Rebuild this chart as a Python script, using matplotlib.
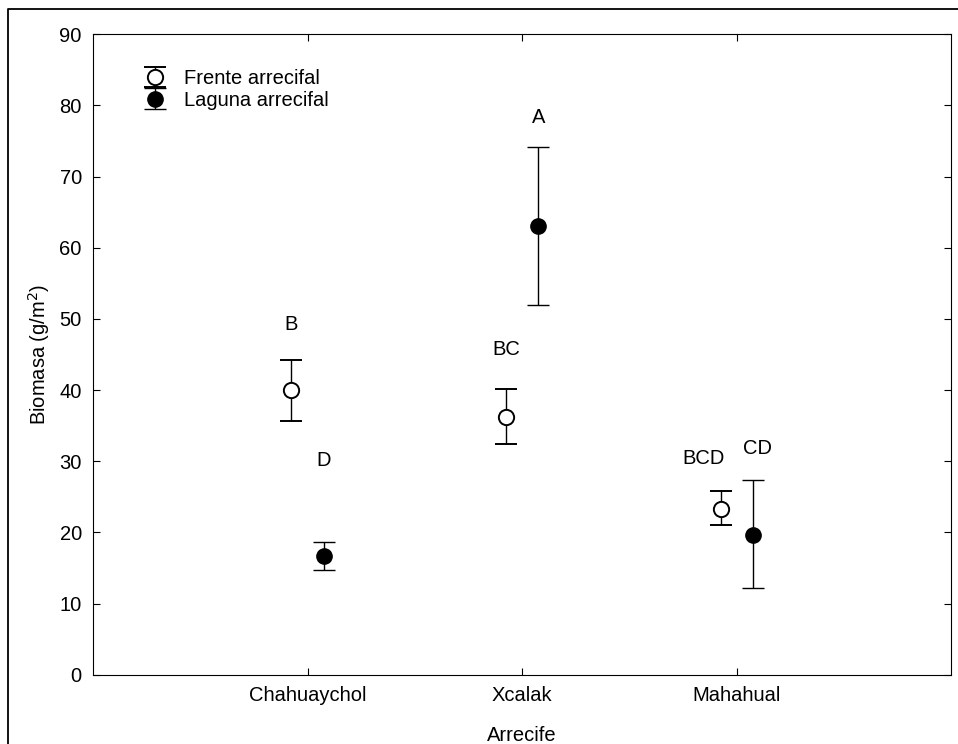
import matplotlib.pyplot as plt
from matplotlib.lines import Line2D

plt.rcParams['font.family'] = ['Liberation Sans', 'DejaVu Sans']
plt.rcParams['font.size'] = 14.5

# biomasa media y limites del intervalo por arrecife
arrecifes = ['Chahuaychol', 'Xcalak', 'Mahahual']
frente = [40.0, 36.2, 23.3]
frente_sup = [44.2, 40.1, 25.8]
frente_inf = [35.7, 32.4, 21.0]
laguna = [16.7, 63.0, 19.7]
laguna_sup = [18.7, 74.1, 27.3]
laguna_inf = [14.7, 52.0, 12.2]

# letras de grupos homogeneos
letras_frente = ['B', 'BC', 'BCD']
letras_laguna = ['D', 'A', 'CD']
y_letras_frente = [49.2, 45.7, 30.4]
y_letras_laguna = [30.1, 78.3, 31.8]

pos = [1, 2, 3]
dx = 0.075

fig = plt.figure(figsize=(9.58, 7.44), dpi=100)
ax = fig.add_axes([0.097, 0.093, 0.896, 0.861])

xf = [p - dx for p in pos]
xl = [p + dx for p in pos]
err_f = [[m - lo for m, lo in zip(frente, frente_inf)],
         [hi - m for m, hi in zip(frente, frente_sup)]]
err_l = [[m - lo for m, lo in zip(laguna, laguna_inf)],
         [hi - m for m, hi in zip(laguna, laguna_sup)]]

ax.errorbar(xf, frente, yerr=err_f, fmt='o', color='black', mfc='white',
            mec='black', mew=1.4, ms=11, capsize=8, elinewidth=1, capthick=1,
            label='Frente arrecifal')
ax.errorbar(xl, laguna, yerr=err_l, fmt='o', color='black', mfc='black',
            ms=11, capsize=8, elinewidth=1, capthick=1,
            label='Laguna arrecifal')

for x, y, t in zip(xf, y_letras_frente, letras_frente):
    ax.text(x - (0.08 if t == 'BCD' else 0), y, t, ha='center', va='center')
for x, y, t in zip(xl, y_letras_laguna, letras_laguna):
    ax.text(x + (0.02 if t == 'CD' else 0), y, t, ha='center', va='center')

ax.set_xlim(0, 4)
ax.set_ylim(0, 90)
ax.set_xticks(pos)
ax.set_xticklabels(arrecifes)
ax.set_yticks(range(0, 91, 10))
ax.tick_params(direction='in', top=True, right=True, length=5, pad=8)
ax.set_xlabel('Arrecife', labelpad=15)
ax.set_ylabel('Biomasa (g/m$^2$)', labelpad=5)

ax.legend(loc='upper left', frameon=False, handletextpad=0.6,
          borderaxespad=0.0, labelspacing=0.12, handlelength=1.7,
          bbox_to_anchor=(0.043, 0.958))

# marco exterior (solo lados superior e izquierdo quedan dentro)
fig.add_artist(Line2D([0.008, 0.008, 1.0], [0.0, 0.988, 0.988],
                      transform=fig.transFigure, color='black', linewidth=1.3))

fig.savefig('out.png', dpi=100)
